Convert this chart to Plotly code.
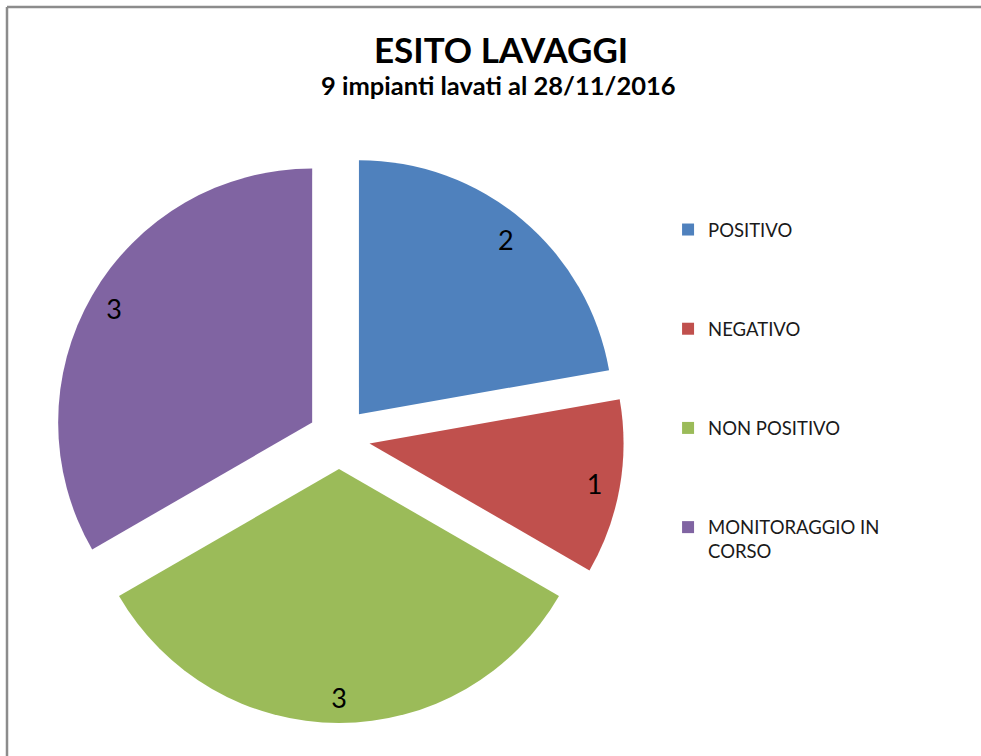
import plotly.graph_objects as go

categories = ["POSITIVO", "NEGATIVO", "NON POSITIVO", "MONITORAGGIO IN<br>CORSO"]
values = [2, 1, 3, 3]
colors = ["#4F81BD", "#C0504D", "#9BBB59", "#8064A2"]
title_text = "ESITO LAVAGGI"
subtitle_text = "9 impianti lavati al 28/11/2016"

W, H = 981, 756
dom_x = [54 / W, 624 / W]
dom_y = [33 / H, 603 / H]
pull = 0.122
FONT = "Lato"

# legend labels padded with blank lines to mimic the wide spacing
pad_lines = [3, 3, 3, 2]
legend_labels = [c + "<br> " * n for c, n in zip(categories, pad_lines)]

fig = go.Figure()
fig.add_trace(go.Pie(
    labels=legend_labels,
    values=values,
    sort=False,
    direction="clockwise",
    rotation=0,
    pull=[pull] * len(values),
    marker=dict(colors=colors, line=dict(width=0)),
    textinfo="none",
    domain=dict(x=dom_x, y=dom_y),
    showlegend=True,
    hoverinfo="skip",
))
# transparent ring trace to place value labels near the outer edge
fig.add_trace(go.Pie(
    labels=legend_labels,
    values=values,
    sort=False,
    direction="clockwise",
    rotation=0,
    hole=0.8,
    pull=[pull] * len(values),
    marker=dict(colors=["rgba(0,0,0,0)"] * len(values), line=dict(width=0)),
    texttemplate="%{value}",
    textposition="inside",
    insidetextorientation="horizontal",
    textfont=dict(family=FONT, size=27, color="#000000"),
    domain=dict(x=dom_x, y=dom_y),
    showlegend=False,
    hoverinfo="skip",
))

border_color = "#8C8C8C"
fig.update_layout(
    width=W, height=H,
    margin=dict(l=0, r=0, t=0, b=0),
    paper_bgcolor="white",
    plot_bgcolor="white",
    font=dict(family=FONT, color="#000000"),
    legend=dict(
        x=0.681, y=1 - 211 / H, xanchor="left", yanchor="top",
        font=dict(family=FONT, size=18.5, color="#1a1a1a"),
        valign="top",
        bgcolor="rgba(0,0,0,0)",
    ),
    annotations=[
        dict(text="<b>" + title_text + "</b>", x=501 / W, y=1 - 49 / H,
             xref="paper", yref="paper", showarrow=False,
             xanchor="center", yanchor="middle",
             font=dict(family=FONT, size=35, color="#000000")),
        dict(text="<b>" + subtitle_text + "</b>", x=498 / W, y=1 - 85 / H,
             xref="paper", yref="paper", showarrow=False,
             xanchor="center", yanchor="middle",
             font=dict(family=FONT, size=25.5, color="#000000")),
    ],
    shapes=[
        dict(type="line", xref="paper", yref="paper",
             x0=7 / W, x1=1.0, y0=1 - 7 / H, y1=1 - 7 / H,
             line=dict(color=border_color, width=2.5)),
        dict(type="line", xref="paper", yref="paper",
             x0=7 / W, x1=7 / W, y0=0.0, y1=1 - 7 / H,
             line=dict(color=border_color, width=2.5)),
    ],
)

fig.write_html(
    "out.html",
    config={"displayModeBar": False},
    post_script="document.body.style.margin='0';document.body.style.overflow='hidden';",
)
